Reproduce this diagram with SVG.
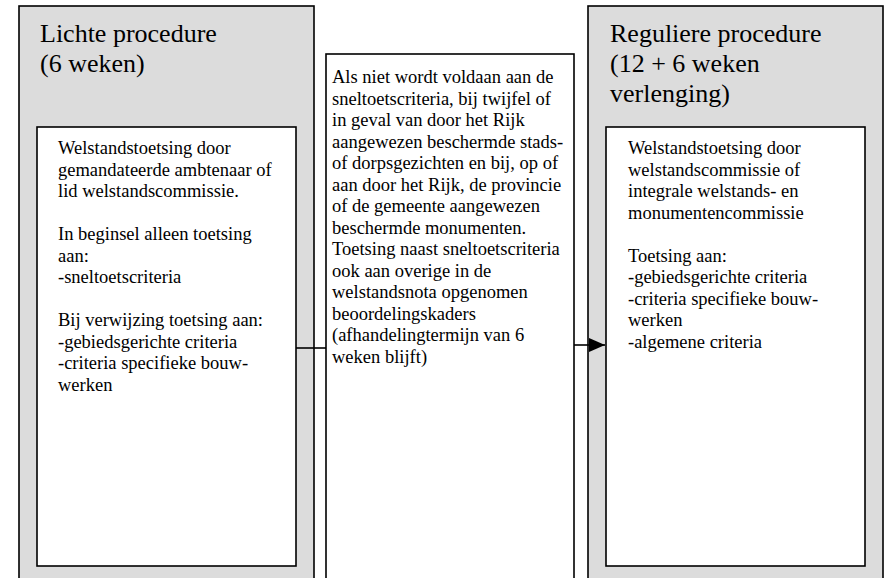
<svg xmlns="http://www.w3.org/2000/svg" width="884" height="578" viewBox="0 0 884 578">
<defs>
<style>
.outer{fill:#dcdcdc;stroke:#000;stroke-width:1.6}
.inner{fill:#fff;stroke:#000;stroke-width:1.6}
.title{font-family:"Liberation Serif","Times New Roman",serif;font-size:26px;fill:#000}
.body{font-family:"Liberation Serif","Times New Roman",serif;font-size:18.5px;fill:#000}
.conn{stroke:#000;stroke-width:1.6;fill:none}
</style>
<marker id="arrow" markerWidth="16" markerHeight="14" refX="16" refY="7" orient="auto" markerUnits="userSpaceOnUse">
<path d="M0,0 L16,7 L0,14 Z" fill="#000"/>
</marker>
</defs>
<rect width="884" height="578" fill="#fff"/>
<g id="lichte">
<rect class="outer" x="19" y="6" width="295" height="590"/>
<text class="title" x="40" y="42">Lichte procedure</text>
<text class="title" x="40" y="72">(6 weken)</text>
</g>
<g id="lichte-inhoud">
<rect class="inner" x="37" y="127" width="259" height="439"/>
<text class="body" x="58" y="154">Welstandstoetsing door</text>
<text class="body" x="58" y="175.5">gemandateerde ambtenaar of</text>
<text class="body" x="58" y="197">lid welstandscommissie.</text>
<text class="body" x="58" y="240">In beginsel alleen toetsing</text>
<text class="body" x="58" y="261.5">aan:</text>
<text class="body" x="58" y="283">-sneltoetscriteria</text>
<text class="body" x="58" y="326">Bij verwijzing toetsing aan:</text>
<text class="body" x="58" y="347.5">-gebiedsgerichte criteria</text>
<text class="body" x="58" y="369">-criteria specifieke bouw-</text>
<text class="body" x="58" y="390.5">werken</text>
</g>
<g id="midden">
<rect class="inner" x="326" y="54" width="248" height="540"/>
<text class="body" x="332" y="83">Als niet wordt voldaan aan de</text>
<text class="body" x="332" y="104.5">sneltoetscriteria, bij twijfel of</text>
<text class="body" x="332" y="126">in geval van door het Rijk</text>
<text class="body" x="332" y="147.5">aangewezen beschermde stads-</text>
<text class="body" x="332" y="169">of dorpsgezichten en bij, op of</text>
<text class="body" x="332" y="190.5">aan door het Rijk, de provincie</text>
<text class="body" x="332" y="212">of de gemeente aangewezen</text>
<text class="body" x="332" y="233.5">beschermde monumenten.</text>
<text class="body" x="332" y="255">Toetsing naast sneltoetscriteria</text>
<text class="body" x="332" y="276.5">ook aan overige in de</text>
<text class="body" x="332" y="298">welstandsnota opgenomen</text>
<text class="body" x="332" y="319.5">beoordelingskaders</text>
<text class="body" x="332" y="341">(afhandelingtermijn van 6</text>
<text class="body" x="332" y="362.5">weken blijft)</text>
</g>
<g id="regulier">
<rect class="outer" x="588" y="6" width="295" height="590"/>
<text class="title" x="610" y="42">Reguliere procedure</text>
<text class="title" x="610" y="72">(12 + 6 weken</text>
<text class="title" x="610" y="102">verlenging)</text>
</g>
<g id="regulier-inhoud">
<rect class="inner" x="606" y="127" width="259" height="439"/>
<text class="body" x="628" y="154">Welstandstoetsing door</text>
<text class="body" x="628" y="175.5">welstandscommissie of</text>
<text class="body" x="628" y="197">integrale welstands- en</text>
<text class="body" x="628" y="218.5">monumentencommissie</text>
<text class="body" x="628" y="261.5">Toetsing aan:</text>
<text class="body" x="628" y="283">-gebiedsgerichte criteria</text>
<text class="body" x="628" y="304.5">-criteria specifieke bouw-</text>
<text class="body" x="628" y="326">werken</text>
<text class="body" x="628" y="347.5">-algemene criteria</text>
</g>
<g id="connectors">
<line class="conn" x1="296" y1="348" x2="326" y2="348"/>
<line class="conn" x1="574" y1="345" x2="605" y2="345" marker-end="url(#arrow)"/>
</g>
</svg>
